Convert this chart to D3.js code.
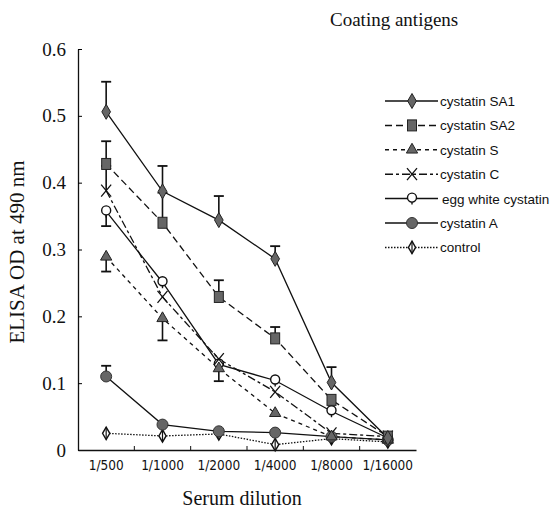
<!DOCTYPE html>
<meta charset="utf-8">
<script src="https://d3js.org/d3.v7.min.js"></script>
<style>
  body { margin: 0; background: #fff; }
</style>
<div id="my_dataviz"></div>

<script>
  // dilutions on the x axis
  var dilutions = ["1/500", "1/1000", "1/2000", "1/4000", "1/8000", "1/16000"];
  var yTicks = [0, 0.1, 0.2, 0.3, 0.4, 0.5, 0.6];

  // OD values per coating antigen
  var sa1 = [0.506, 0.387, 0.344, 0.286, 0.101, 0.018];
  var sa2 = [0.428, 0.340, 0.229, 0.167, 0.075, 0.020];
  var cysS = [0.289, 0.197, 0.122, 0.055, 0.020, 0.015];
  var cysC = [0.388, 0.229, 0.136, 0.087, 0.025, 0.020];
  var eggWhite = [0.357, 0.251, 0.128, 0.104, 0.058, 0.018];
  var cysA = [0.110, 0.038, 0.028, 0.026, 0.020, 0.015];
  var control = [0.025, 0.021, 0.024, 0.008, 0.017, 0.012];

  // end of each error bar (null = none visible)
  var sa1Err = [0.551, 0.425, 0.380, 0.305, 0.124, null];
  var sa2Err = [0.462, 0.385, 0.254, 0.184, null, null];
  var cysSErr = [0.267, 0.164, 0.103, null, null, null];
  var cysCErr = [0.425, null, null, null, null, null];
  var eggWhiteErr = [0.335, null, null, null, null, null];
  var cysAErr = [0.126, null, null, null, null, null];
  var controlErr = [null, null, null, null, null, null];

  var names = ["cystatin SA1", "cystatin SA2", "cystatin S", "cystatin C",
    "egg white cystatin", "cystatin A", "control"];

  var series = [
    { name: names[0], values: sa1, err: sa1Err, dash: null, marker: "diamond" },
    { name: names[1], values: sa2, err: sa2Err, dash: "7,4", marker: "square" },
    { name: names[2], values: cysS, err: cysSErr, dash: "4,4", marker: "triangle" },
    { name: names[3], values: cysC, err: cysCErr, dash: "8,3,3,3", marker: "x" },
    { name: names[4], values: eggWhite, err: eggWhiteErr, dash: null, marker: "open" },
    { name: names[5], values: cysA, err: cysAErr, dash: null, marker: "circle" },
    { name: names[6], values: control, err: controlErr, dash: "1.5,1.5", marker: "control" }
  ];

  var W = 560, H = 511;
  var svg = d3.select("#my_dataviz").append("svg")
    .attr("width", W).attr("height", H);

  var x = d3.scaleBand().domain(dilutions).range([78, 416]).padding(0);
  var y = d3.scaleLinear().domain([0, 0.6]).range([450, 49]);
  var cx = function (d) { return x(d) + x.bandwidth() / 2; };

  var serif = "'Liberation Serif', 'Times New Roman', serif";
  var narrow = "'DejaVu Sans Condensed', 'Liberation Sans', sans-serif";
  var sans = "'Liberation Sans', Arial, sans-serif";

  // y axis
  var yAxis = svg.append("g")
    .attr("transform", "translate(78,0)")
    .call(d3.axisLeft(y).tickValues(yTicks).tickSizeInner(-4).tickSizeOuter(0)
      .tickPadding(12).tickFormat(function (d) { return d === 0 ? "0" : d3.format(".1f")(d); }));
  yAxis.selectAll("text").style("font-family", serif).style("font-size", "19px").attr("fill", "#111");

  // x axis
  var xAxis = svg.append("g")
    .attr("transform", "translate(0,450)")
    .call(d3.axisBottom(x).tickSize(0).tickPadding(10));
  xAxis.selectAll("text").style("font-family", narrow).style("font-size", "13.5px").attr("fill", "#111");
  svg.selectAll(".domain").attr("stroke", "#111").attr("stroke-width", 1.3);

  // small ticks between dilutions
  svg.selectAll("xtick")
    .data(dilutions.slice(1))
    .enter().append("line")
    .attr("x1", function (d) { return x(d); })
    .attr("x2", function (d) { return x(d); })
    .attr("y1", 450).attr("y2", 446)
    .attr("stroke", "#111");

  // error bars
  series.forEach(function (s) {
    var g = svg.append("g");
    dilutions.forEach(function (d, i) {
      if (s.err[i] == null) return;
      g.append("line")
        .attr("x1", cx(d)).attr("x2", cx(d))
        .attr("y1", y(s.values[i])).attr("y2", y(s.err[i]))
        .attr("stroke", "#111").attr("stroke-width", 1.6);
      g.append("line")
        .attr("x1", cx(d) - 5).attr("x2", cx(d) + 5)
        .attr("y1", y(s.err[i])).attr("y2", y(s.err[i]))
        .attr("stroke", "#111").attr("stroke-width", 1.8);
    });
  });

  // lines
  var line = d3.line()
    .x(function (d, i) { return cx(dilutions[i]); })
    .y(function (d) { return y(d); });

  series.forEach(function (s) {
    svg.append("path")
      .datum(s.values)
      .attr("d", line)
      .attr("fill", "none")
      .attr("stroke", "#111")
      .attr("stroke-width", 1.3)
      .attr("stroke-dasharray", s.dash);
  });

  function drawMarker(g, type, px, py) {
    var grey = "#666";
    if (type === "diamond") {
      g.append("path").attr("d", d3.symbol().type(d3.symbolDiamond).size(65)())
        .attr("transform", "translate(" + px + "," + py + ")")
        .attr("fill", grey).attr("stroke", "#222").attr("stroke-width", 1);
    } else if (type === "square") {
      g.append("rect").attr("x", px - 4.5).attr("y", py - 5.5)
        .attr("width", 9).attr("height", 11)
        .attr("fill", grey).attr("stroke", "#222").attr("stroke-width", 1);
    } else if (type === "triangle") {
      g.append("path").attr("d", d3.symbol().type(d3.symbolTriangle).size(55)())
        .attr("transform", "translate(" + px + "," + py + ")")
        .attr("fill", grey).attr("stroke", "#222").attr("stroke-width", 1);
    } else if (type === "x") {
      g.append("path")
        .attr("d", "M" + (px - 5) + "," + (py - 6) + "L" + (px + 5) + "," + (py + 6) +
          "M" + (px + 5) + "," + (py - 6) + "L" + (px - 5) + "," + (py + 6))
        .attr("fill", "none").attr("stroke", "#111").attr("stroke-width", 1.3);
    } else if (type === "open") {
      g.append("circle").attr("cx", px).attr("cy", py - 1).attr("r", 4.5)
        .attr("fill", "#fff").attr("stroke", "#111").attr("stroke-width", 1.4);
      g.append("line").attr("x1", px).attr("x2", px).attr("y1", py + 3.5).attr("y2", py + 6)
        .attr("stroke", "#111").attr("stroke-width", 1.4);
    } else if (type === "circle") {
      g.append("circle").attr("cx", px).attr("cy", py).attr("r", 5.5)
        .attr("fill", grey).attr("stroke", "#333").attr("stroke-width", 1);
    } else if (type === "control") {
      g.append("path").attr("d", d3.symbol().type(d3.symbolDiamond).size(45)())
        .attr("transform", "translate(" + px + "," + py + ")")
        .attr("fill", "#fff").attr("stroke", "#111").attr("stroke-width", 1.4);
      g.append("line").attr("x1", px).attr("x2", px).attr("y1", py - 6).attr("y2", py + 6)
        .attr("stroke", "#111").attr("stroke-width", 1.2);
    }
  }

  // markers, drawn in reverse so SA1 is on top
  series.slice().reverse().forEach(function (s) {
    var g = svg.append("g");
    s.values.forEach(function (v, i) {
      drawMarker(g, s.marker, cx(dilutions[i]), y(v));
    });
  });

  // legend
  var legend = svg.append("g").attr("transform", "translate(385,101)");
  series.forEach(function (s, i) {
    var row = legend.append("g").attr("transform", "translate(0," + (i * 24.4) + ")");
    row.append("line").attr("x1", 0).attr("x2", 53).attr("y1", 0).attr("y2", 0)
      .attr("stroke", "#111").attr("stroke-width", 1.5)
      .attr("stroke-dasharray", s.dash);
    drawMarker(row, s.marker, 27, 0);
    row.append("text")
      .attr("x", i === 4 ? 57 : 55).attr("y", 5)
      .style("font-family", sans).style("font-size", "13.5px")
      .attr("fill", "#111")
      .text(s.name);
  });

  // titles
  svg.append("text").attr("x", 330).attr("y", 26)
    .style("font-family", serif).style("font-size", "19px").attr("fill", "#111")
    .text("Coating antigens");

  svg.append("text").attr("x", 242).attr("y", 505)
    .attr("text-anchor", "middle")
    .style("font-family", serif).style("font-size", "20px").attr("fill", "#111")
    .text("Serum dilution");

  svg.append("text")
    .attr("transform", "translate(24,252) rotate(-90)")
    .attr("text-anchor", "middle")
    .style("font-family", serif).style("font-size", "21px").attr("fill", "#111")
    .text("ELISA OD at 490 nm");
</script>
